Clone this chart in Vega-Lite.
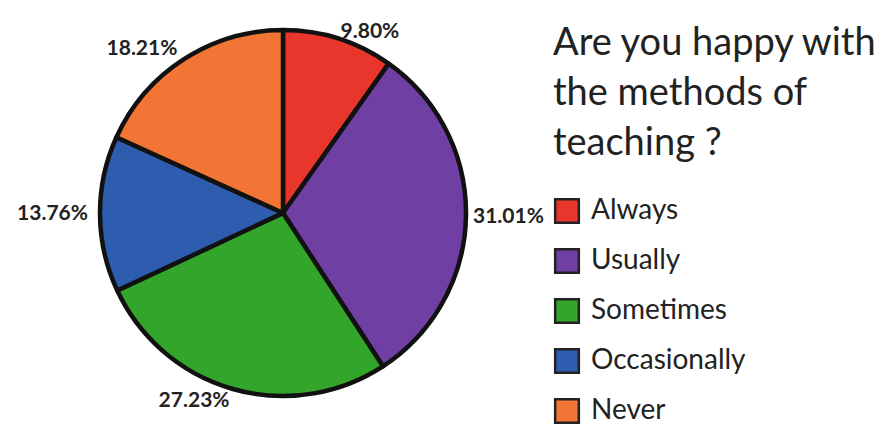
{
  "$schema": "https://vega.github.io/schema/vega-lite/v6.json",
  "width": 566,
  "height": 426,
  "padding": 0,
  "background": "white",
  "data": {
    "values": [
      {"answer": "Always", "pct": 9.80, "label": "9.80%", "i": 1},
      {"answer": "Usually", "pct": 31.01, "label": "31.01%", "i": 2},
      {"answer": "Sometimes", "pct": 27.23, "label": "27.23%", "i": 3},
      {"answer": "Occasionally", "pct": 13.76, "label": "13.76%", "i": 4},
      {"answer": "Never", "pct": 18.21, "label": "18.21%", "i": 5}
    ]
  },
  "transform": [
    {"stack": "pct", "groupby": [], "sort": [{"field": "i", "order": "ascending"}], "as": ["p0", "p1"]},
    {"calculate": "(datum.p0 + datum.p1) / 2", "as": "mid"}
  ],
  "layer": [
    {
      "mark": {"type": "arc", "outerRadius": 183, "stroke": "#111111", "strokeWidth": 4.5, "strokeJoin": "round"},
      "encoding": {
        "theta": {"field": "p0", "type": "quantitative", "scale": {"domain": [0, 100.01]}},
        "theta2": {"field": "p1"},
        "color": {
          "field": "answer",
          "type": "nominal",
          "sort": null,
          "scale": {
            "domain": ["Always", "Usually", "Sometimes", "Occasionally", "Never"],
            "range": ["#e8362c", "#6f3fa3", "#33a52a", "#2e5db0", "#f37535"]
          },
          "legend": {
            "orient": "none",
            "legendX": 553,
            "legendY": 25,
            "title": ["Are you happy with", "the methods of", "teaching ?"],
            "titleFont": "Lato",
            "titleFontSize": 38,
            "titleFontWeight": "normal",
            "titleColor": "#222222",
            "titleLineHeight": 50,
            "titlePadding": 34,
            "titleLimit": 400,
            "labelFont": "Lato",
            "labelFontSize": 28,
            "labelColor": "#222222",
            "labelLimit": 300,
            "labelOffset": 10,
            "symbolType": "square",
            "symbolSize": 560,
            "symbolStrokeColor": "#222222",
            "symbolStrokeWidth": 2.5,
            "rowPadding": 16
          }
        }
      }
    },
    {
      "transform": [{"filter": "datum.mid < 50"}],
      "mark": {"type": "text", "radius": 190, "align": "left", "baseline": "middle", "font": "Lato", "fontSize": 21, "fontWeight": "bold", "fill": "#222222"},
      "encoding": {
        "theta": {"field": "mid", "type": "quantitative", "scale": {"domain": [0, 100.01]}},
        "text": {"field": "label", "type": "nominal"}
      }
    },
    {
      "transform": [{"filter": "datum.mid >= 50"}],
      "mark": {"type": "text", "radius": 195, "align": "right", "baseline": "middle", "font": "Lato", "fontSize": 21, "fontWeight": "bold", "fill": "#222222"},
      "encoding": {
        "theta": {"field": "mid", "type": "quantitative", "scale": {"domain": [0, 100.01]}},
        "text": {"field": "label", "type": "nominal"}
      }
    }
  ]
}
